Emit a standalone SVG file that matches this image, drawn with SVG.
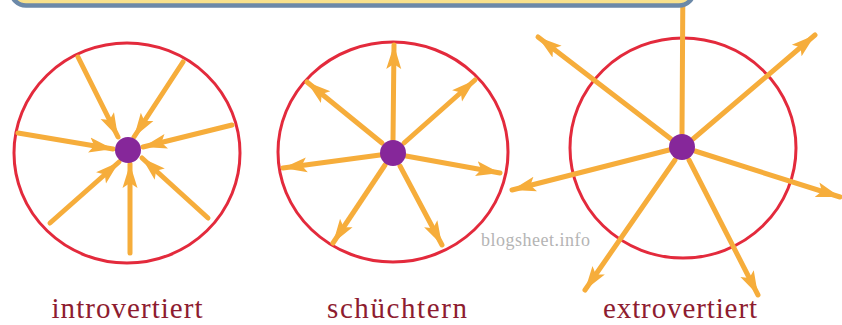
<svg xmlns="http://www.w3.org/2000/svg" width="842" height="325" viewBox="0 0 842 325">
  <style>
    .ring{fill:none;stroke:#e32a3c;stroke-width:3}
    .dot{fill:#86279a}
    .arr{fill:none;stroke:#f6ad3b;stroke-width:5;stroke-linecap:round;marker-end:url(#head)}
    .label{font-family:"Liberation Serif",serif;font-size:29px;fill:#8e1c30;text-anchor:middle}
    .wm{font-family:"Liberation Serif",serif;font-size:18px;fill:#b4b4b4}
  </style>
  <defs>
    <marker id="head" markerUnits="userSpaceOnUse" markerWidth="26" markerHeight="18" refX="24" refY="9" orient="auto">
      <path d="M0,1.5 L24,9 L0,16.5 L5,9 Z" fill="#f6ad3b"/>
    </marker>
  </defs>
  <rect width="842" height="325" fill="#ffffff"/>

  <g id="node-introvertiert">
    <ellipse class="ring" cx="127" cy="153" rx="113" ry="110"/>
  </g>
  <g id="node-schuechtern">
    <ellipse class="ring" cx="393" cy="152" rx="115" ry="110"/>
  </g>
  <g id="node-extrovertiert">
    <ellipse class="ring" cx="683" cy="148" rx="113" ry="110"/>
  </g>

  <g id="connectors">
    <path class="arr" d="M78,57 L118,137"/>
    <path class="arr" d="M183,62 L134,137"/>
    <path class="arr" d="M232,125 L143,147"/>
    <path class="arr" d="M18,133 L113,149"/>
    <path class="arr" d="M50,223 L119,162"/>
    <path class="arr" d="M130,253 L130,164"/>
    <path class="arr" d="M208,218 L142,158"/>

    <path class="arr" d="M393,140 L394,45"/>
    <path class="arr" d="M382,143 L307,82"/>
    <path class="arr" d="M404,143 L475,80"/>
    <path class="arr" d="M380,155 L283,168"/>
    <path class="arr" d="M406,156 L500,173"/>
    <path class="arr" d="M385,165 L333,243"/>
    <path class="arr" d="M400,166 L442,245"/>

    <path class="arr" d="M682,134 L683,-30"/>
    <path class="arr" d="M671,139 L538,37"/>
    <path class="arr" d="M693,139 L815,35"/>
    <path class="arr" d="M669,150 L512,190"/>
    <path class="arr" d="M695,151 L840,197"/>
    <path class="arr" d="M675,160 L585,290"/>
    <path class="arr" d="M689,160 L758,295"/>
  </g>

  <g id="dots">
    <circle class="dot" cx="128" cy="150" r="13"/>
    <circle class="dot" cx="393" cy="153" r="13"/>
    <circle class="dot" cx="682" cy="147" r="13"/>
  </g>

  <g id="banner">
    <rect x="11" y="-40" width="683" height="45.5" rx="15" fill="#f9e18b" stroke="#6c89a8" stroke-width="4.5"/>
  </g>

  <g id="labels">
    <text class="label" x="127" y="318" textLength="151" lengthAdjust="spacing">introvertiert</text>
    <text class="label" x="397" y="318" textLength="140" lengthAdjust="spacing">schüchtern</text>
    <text class="label" x="680" y="318" textLength="154" lengthAdjust="spacing">extrovertiert</text>
    <text class="wm" x="481" y="246" textLength="109" lengthAdjust="spacing">blogsheet.info</text>
  </g>
</svg>
